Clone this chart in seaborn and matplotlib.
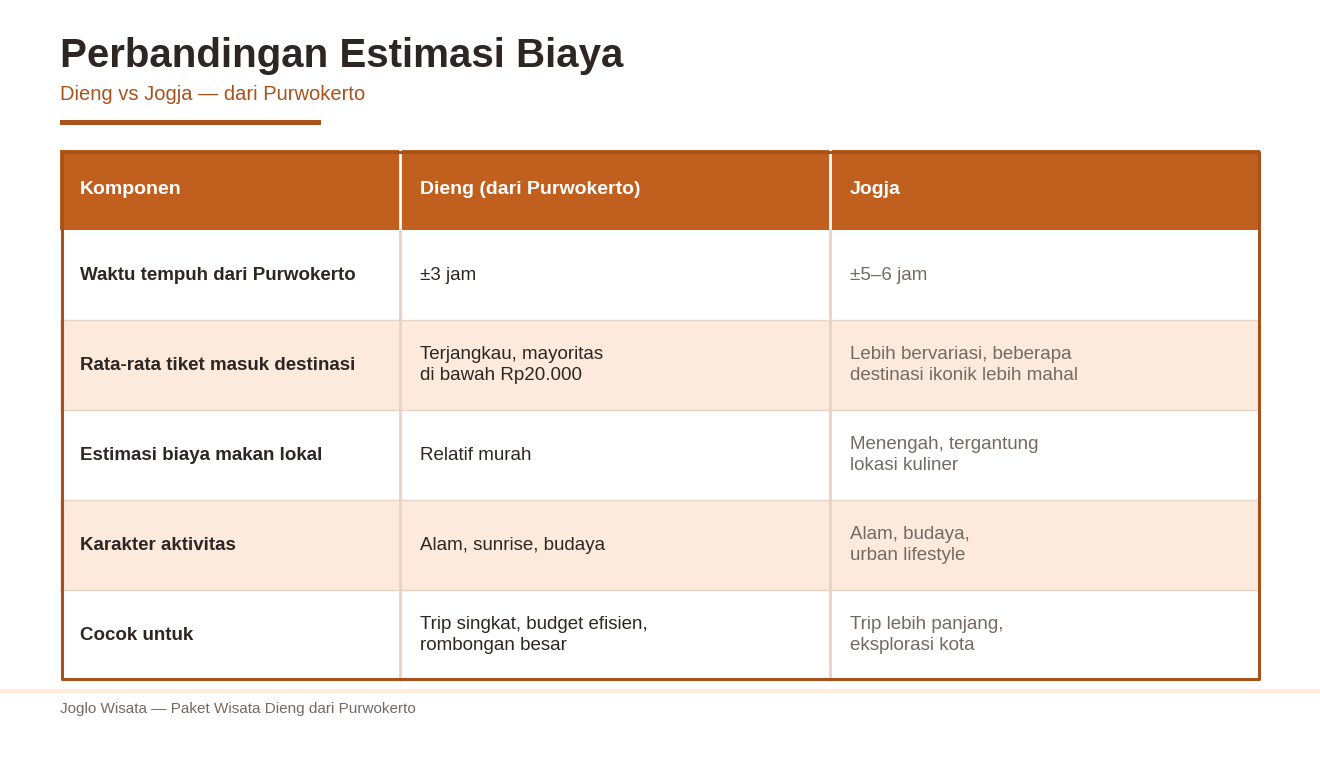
import matplotlib
matplotlib.use("Agg")
import matplotlib.pyplot as plt
import seaborn as sns
from matplotlib.patches import Rectangle

sns.set_theme(style="white")
plt.rcParams['font.family'] = ['Liberation Sans', 'DejaVu Sans']

title = "Perbandingan Estimasi Biaya"
subtitle = "Dieng vs Jogja — dari Purwokerto"
footer = "Joglo Wisata — Paket Wisata Dieng dari Purwokerto"
headers = ["Komponen", "Dieng (dari Purwokerto)", "Jogja"]
komponen = ["Waktu tempuh dari Purwokerto", "Rata-rata tiket masuk destinasi",
            "Estimasi biaya makan lokal", "Karakter aktivitas", "Cocok untuk"]
dieng = ["±3 jam", "Terjangkau, mayoritas\ndi bawah Rp20.000", "Relatif murah",
         "Alam, sunrise, budaya", "Trip singkat, budget efisien,\nrombongan besar"]
jogja = ["±5–6 jam", "Lebih bervariasi, beberapa\ndestinasi ikonik lebih mahal",
         "Menengah, tergantung\nlokasi kuliner", "Alam, budaya,\nurban lifestyle",
         "Trip lebih panjang,\neksplorasi kota"]

ORANGE = "#C05F1E"
BORDER = "#A5521C"
STRIPE = "#FCEADD"
DARK = "#2E2622"
GRAY = "#756A62"
SEP = "#E6D3C6"

fig = plt.figure(figsize=(13.2, 7.8), dpi=100)
ax = fig.add_axes([0, 0, 1, 1])
ax.set_xlim(0, 1320)
ax.set_ylim(780, 0)
ax.axis("off")

ax.text(60, 56, title, fontsize=29, fontweight="bold", color=DARK, va="center")
ax.text(60, 95, subtitle, fontsize=14.5, color="#A8521C", va="center")
ax.add_patch(Rectangle((60, 120), 261, 5, color="#A8521C", lw=0))

cols = [60, 400, 830, 1260]
top, hh, rh = 150, 80, 90
ax.add_patch(Rectangle((60, top), 1200, hh, color=ORANGE, lw=0))
for j, h in enumerate(headers):
    ax.text(cols[j] + 20, top + hh / 2, h, fontsize=14, fontweight="bold", color="white", va="center")

for i in range(len(komponen)):
    y0 = top + hh + i * rh
    if i % 2 == 1:
        ax.add_patch(Rectangle((60, y0), 1200, rh, color=STRIPE, lw=0))
    if i > 0:
        ax.plot([60, 1260], [y0, y0], color=SEP, lw=1)
    yc = y0 + rh / 2
    ax.text(cols[0] + 20, yc, komponen[i], fontsize=13.5, fontweight="bold", color=DARK, va="center")
    ax.text(cols[1] + 20, yc, dieng[i], fontsize=13.5, color=DARK, va="center", linespacing=1.35)
    ax.text(cols[2] + 20, yc, jogja[i], fontsize=13.5, color=GRAY, va="center", linespacing=1.35)

bottom = top + hh + len(komponen) * rh
for x in cols[1:3]:
    ax.plot([x, x], [top, top + hh], color="white", lw=2)
    ax.plot([x, x], [top + hh, bottom], color=SEP, lw=2)
ax.plot([61.5, 61.5, 1258.5, 1258.5, 61.5], [top + 1.5, bottom - 1.5, bottom - 1.5, top + 1.5, top + 1.5],
        color=BORDER, lw=2.2)

ax.plot([0, 1320], [691, 691], color="#FDEBDD", lw=3)
ax.text(60, 709, footer, fontsize=11, color=GRAY, va="center")

fig.savefig("out.png", dpi=100)
